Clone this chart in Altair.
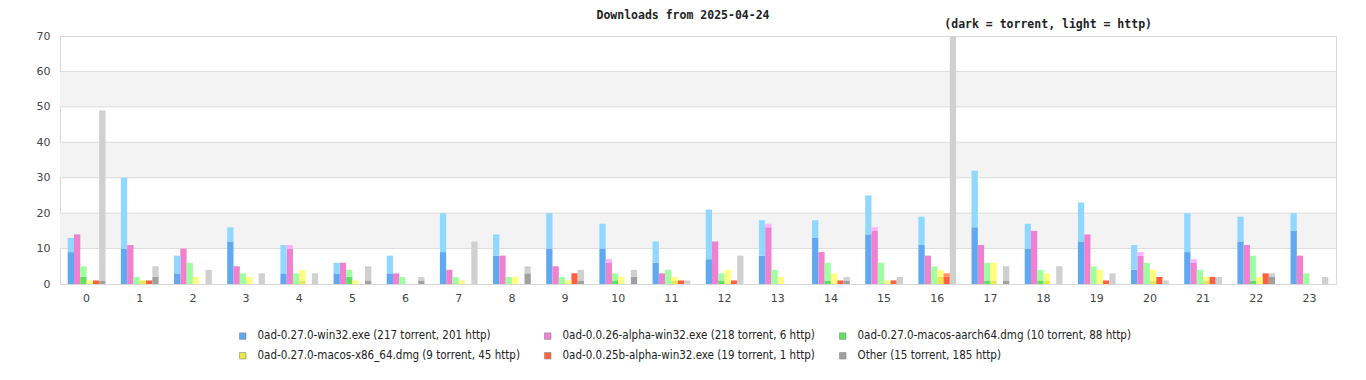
import altair as alt
import pandas as pd

hours = list(range(24))

series = [
    "0ad-0.27.0-win32.exe (217 torrent, 201 http)",
    "0ad-0.0.26-alpha-win32.exe (218 torrent, 6 http)",
    "0ad-0.27.0-macos-aarch64.dmg (10 torrent, 88 http)",
    "0ad-0.27.0-macos-x86_64.dmg (9 torrent, 45 http)",
    "0ad-0.0.25b-alpha-win32.exe (19 torrent, 1 http)",
    "Other (15 torrent, 185 http)",
]
dark_colors = ["#60a8f0", "#f080d0", "#60e060", "#e8e850", "#ff6040", "#a0a0a0"]
light_colors = ["#90d8ff", "#ffb0ff", "#a0ffa0", "#ffff80", "#ff9060", "#d0d0d0"]

win32_torrent = [9, 10, 3, 12, 3, 3, 3, 9, 8, 10, 10, 6, 7, 8, 13, 14, 11, 16, 10, 12, 4, 9, 12, 15]
win32_http = [4, 20, 5, 4, 8, 3, 5, 11, 6, 10, 7, 6, 14, 10, 5, 11, 8, 16, 7, 11, 7, 11, 7, 5]
a26_torrent = [14, 11, 10, 5, 10, 6, 3, 4, 8, 5, 6, 3, 12, 16, 9, 15, 8, 11, 15, 14, 8, 6, 11, 8]
a26_http = [0, 0, 0, 0, 1, 0, 0, 0, 0, 0, 1, 0, 0, 1, 0, 1, 0, 0, 0, 0, 1, 1, 0, 0]
arm_torrent = [2, 0, 0, 0, 0, 2, 0, 0, 0, 0, 1, 0, 1, 0, 1, 0, 0, 1, 1, 0, 0, 0, 1, 0]
arm_http = [3, 2, 6, 3, 3, 2, 2, 2, 2, 2, 2, 4, 2, 4, 5, 6, 5, 5, 3, 5, 6, 4, 7, 3]
x86_torrent = [0, 1, 0, 0, 1, 0, 0, 0, 0, 0, 0, 1, 0, 0, 0, 0, 2, 1, 1, 0, 1, 1, 0, 0]
x86_http = [1, 0, 2, 2, 3, 1, 0, 1, 2, 1, 2, 1, 4, 2, 3, 1, 2, 5, 2, 4, 3, 1, 2, 0]
a25_torrent = [1, 1, 0, 0, 0, 0, 0, 0, 0, 3, 0, 1, 1, 0, 1, 1, 2, 0, 0, 1, 2, 2, 3, 0]
a25_http = [0, 0, 0, 0, 0, 0, 0, 0, 0, 0, 0, 0, 0, 0, 0, 0, 1, 0, 0, 0, 0, 0, 0, 0]
other_torrent = [1, 2, 0, 0, 0, 1, 1, 0, 3, 1, 2, 0, 0, 0, 1, 0, 0, 1, 0, 0, 0, 0, 2, 0]
other_http = [48, 3, 4, 3, 3, 4, 1, 12, 2, 3, 2, 1, 8, 0, 1, 2, 70, 4, 5, 3, 1, 2, 1, 2]

torrents = [win32_torrent, a26_torrent, arm_torrent, x86_torrent, a25_torrent, other_torrent]
https = [win32_http, a26_http, arm_http, x86_http, a25_http, other_http]

y_ticks = [0, 10, 20, 30, 40, 50, 60, 70]
bands = [(10, 20), (30, 40), (50, 60)]
grid_values = [10, 20, 30, 40, 50, 60]

rows = []
for s, name in enumerate(series):
    for h in hours:
        t = torrents[s][h]
        p = https[s][h]
        rows.append({"hour": h, "series": name, "torrent": t, "total": t + p, "zero": 0})
df = pd.DataFrame(rows)

band_df = pd.DataFrame({"lo": [b[0] for b in bands], "hi": [b[1] for b in bands]})
grid_df = pd.DataFrame({"v": grid_values})

PLOT_W = 1276
PLOT_H = 248

yscale = alt.Scale(domain=[0, 70], nice=False, zero=True)
yaxis = alt.Axis(values=y_ticks, tickCount=8, ticks=False, domain=False, grid=False,
                 labelOverlap=False, labelPadding=10, labelFont="DejaVu Sans",
                 labelFontSize=11, labelColor="#444444", title=None)

band_layer = alt.Chart(band_df).mark_rect(color="#f3f3f3").encode(
    x=alt.value(0), x2=alt.value(PLOT_W),
    y=alt.Y("lo:Q", scale=yscale, axis=yaxis),
    y2="hi:Q",
)

grid_layer = alt.Chart(grid_df).mark_rule(color="#dcdcdc", strokeWidth=1).encode(
    x=alt.value(0), x2=alt.value(PLOT_W),
    y=alt.Y("v:Q", scale=yscale, axis=yaxis),
)

xenc = alt.X("hour:O", sort=hours,
             scale=alt.Scale(domain=hours, paddingInner=0.29, paddingOuter=0.145),
             axis=alt.Axis(labelAngle=0, ticks=False, domain=False, grid=False,
                           labelPadding=8, labelFont="DejaVu Sans", labelFontSize=11,
                           labelColor="#444444", title=None))
xoff = alt.XOffset("series:N", sort=series,
                   scale=alt.Scale(domain=series, paddingInner=0, paddingOuter=0))

torrent_layer = alt.Chart(df).mark_bar(stroke=None).encode(
    x=xenc,
    xOffset=xoff,
    y=alt.Y("zero:Q", scale=yscale, axis=yaxis),
    y2="torrent:Q",
    color=alt.Color("series:N", sort=series,
                    scale=alt.Scale(domain=series, range=dark_colors),
                    legend=alt.Legend(title=None, orient="none", legendX=177, legendY=294,
                                      direction="horizontal",
                                      columns=3, columnPadding=22, rowPadding=7,
                                      symbolType="square", symbolSize=42,
                                      symbolStrokeColor="#888888", symbolStrokeWidth=0.6,
                                      labelFont="DejaVu Sans Condensed", labelFontSize=11.5,
                                      labelColor="#222222", labelOffset=9,
                                      labelLimit=400)),
)

http_layer = alt.Chart(df).mark_bar(stroke=None).encode(
    x=xenc,
    xOffset=xoff,
    y=alt.Y("torrent:Q", scale=yscale, axis=yaxis),
    y2="total:Q",
    color=alt.Color("series:N", sort=series,
                    scale=alt.Scale(domain=series, range=light_colors),
                    legend=None),
)

title_df = pd.DataFrame({"t": ["Downloads from 2025-04-24"]})
sub_df = pd.DataFrame({"t": ["(dark = torrent, light = http)"]})

title_layer = alt.Chart(title_df).mark_text(
    font="DejaVu Sans Mono", fontSize=11.5, fontWeight="bold", color="#222222",
    align="center", baseline="alphabetic").encode(
    text="t:N", x=alt.value(623), y=alt.value(-17.5))

sub_layer = alt.Chart(sub_df).mark_text(
    font="DejaVu Sans Mono", fontSize=11.5, fontWeight="bold", color="#222222",
    align="right", baseline="alphabetic").encode(
    text="t:N", x=alt.value(1092), y=alt.value(-8))

chart = alt.layer(
    band_layer, grid_layer, torrent_layer, http_layer, title_layer, sub_layer
).resolve_scale(color="independent").properties(
    width=PLOT_W, height=PLOT_H,
    padding={"left": 52, "top": 28, "right": 22, "bottom": 88},
    autosize=alt.AutoSizeParams(type="none"),
    background="white",
).configure_view(stroke="#d8d8d8", strokeWidth=1)

chart.save("out.html", embed_options={"renderer": "svg", "actions": False})
